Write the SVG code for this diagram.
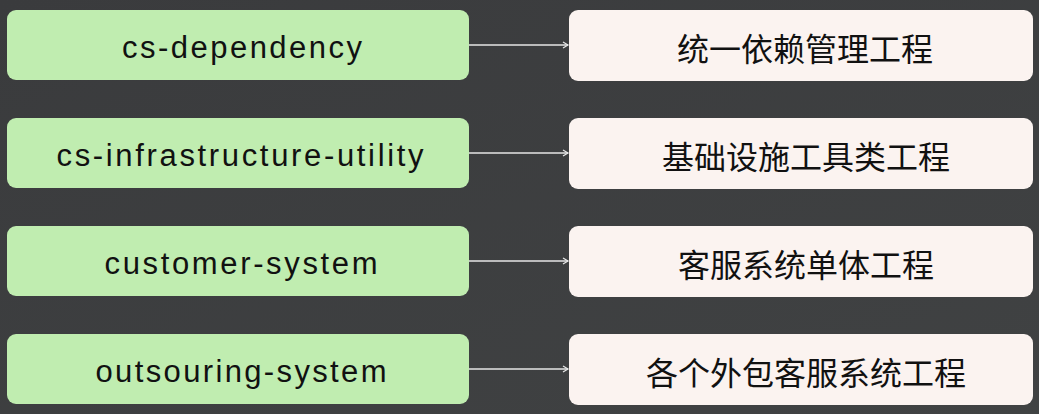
<svg xmlns="http://www.w3.org/2000/svg" width="1039" height="414" viewBox="0 0 1039 414">
<defs>
<linearGradient id="bg" x1="0" y1="0" x2="1" y2="1">
<stop offset="0" stop-color="#3a3b3d"/>
<stop offset="1" stop-color="#404243"/>
</linearGradient>
<marker id="arr" markerWidth="10" markerHeight="10" refX="8" refY="5" orient="auto" markerUnits="userSpaceOnUse">
<path d="M3,2 L8,5 L3,8" fill="none" stroke="#e8e8e8" stroke-width="1.2"/>
</marker>
<style>
.src{fill:#c0edb0;}
.dst{fill:#fbf3f0;}
.en{font-family:"Liberation Sans","Noto Sans",sans-serif;font-size:31px;fill:#111;text-anchor:middle;dominant-baseline:central;}
.zh{font-family:"Noto Sans CJK SC",sans-serif;font-size:32px;fill:#111;text-anchor:middle;dominant-baseline:central;}
.conn{stroke:#e6e6e6;stroke-width:1.3;fill:none;}
</style>
</defs>
<rect width="1039" height="414" fill="url(#bg)"/>
<g id="connectors">
<line class="conn" x1="469" y1="45" x2="568" y2="45" marker-end="url(#arr)"/>
<line class="conn" x1="469" y1="153" x2="568" y2="153" marker-end="url(#arr)"/>
<line class="conn" x1="469" y1="261" x2="568" y2="261" marker-end="url(#arr)"/>
<line class="conn" x1="469" y1="369" x2="568" y2="369" marker-end="url(#arr)"/>
</g>
<g id="n1"><rect class="src" x="7" y="10" width="462" height="70" rx="9"/><text class="en" x="242" y="47" textLength="240" lengthAdjust="spacing">cs-dependency</text></g>
<g id="n2"><rect class="src" x="7" y="118" width="462" height="70" rx="9"/><text class="en" x="240" y="155" textLength="367" lengthAdjust="spacing">cs-infrastructure-utility</text></g>
<g id="n3"><rect class="src" x="7" y="226" width="462" height="70" rx="9"/><text class="en" x="241" y="263" textLength="273" lengthAdjust="spacing">customer-system</text></g>
<g id="n4"><rect class="src" x="7" y="334" width="462" height="70" rx="9"/><text class="en" x="241" y="371" textLength="291" lengthAdjust="spacing">outsouring-system</text></g>
<g id="m1"><rect class="dst" x="569" y="10" width="464" height="71" rx="9"/><text class="zh" x="805" y="47">统一依赖管理工程</text></g>
<g id="m2"><rect class="dst" x="569" y="118" width="464" height="71" rx="9"/><text class="zh" x="806" y="155">基础设施工具类工程</text></g>
<g id="m3"><rect class="dst" x="569" y="226" width="464" height="71" rx="9"/><text class="zh" x="806" y="263">客服系统单体工程</text></g>
<g id="m4"><rect class="dst" x="569" y="334" width="464" height="71" rx="9"/><text class="zh" x="806" y="371">各个外包客服系统工程</text></g>
</svg>
